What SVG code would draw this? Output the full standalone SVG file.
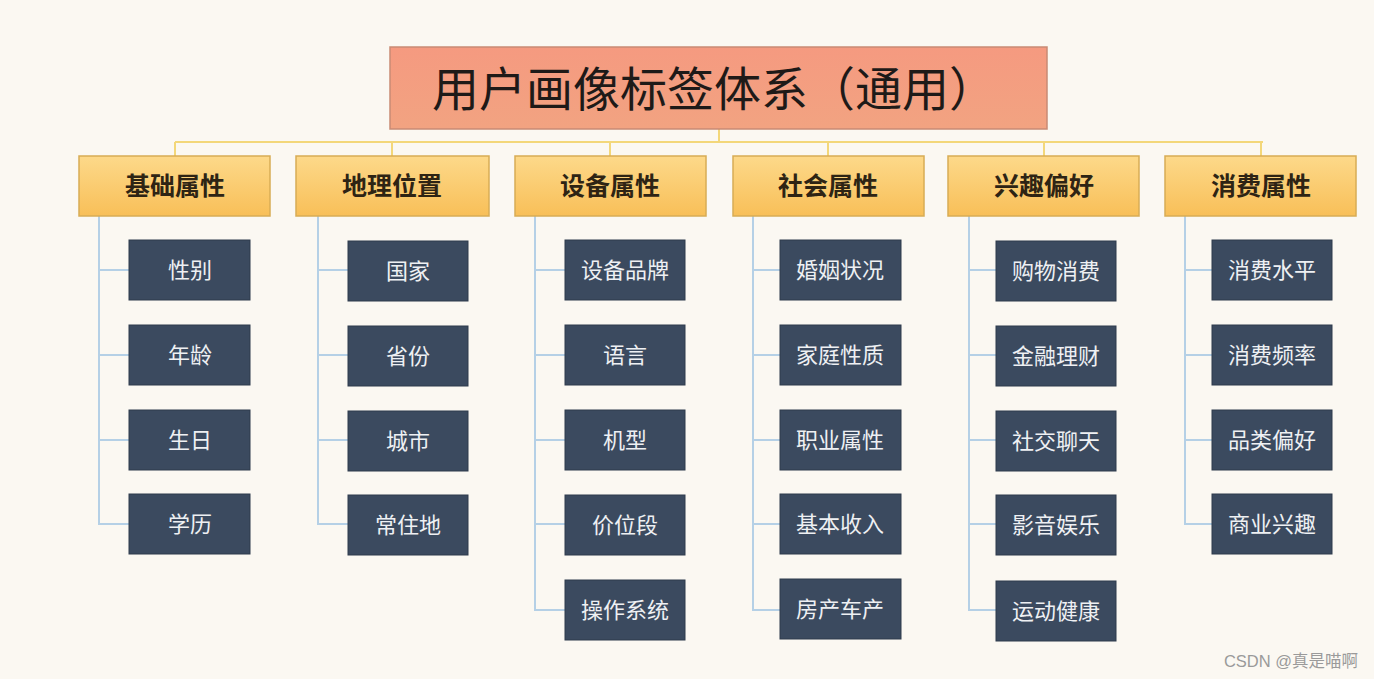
<svg xmlns="http://www.w3.org/2000/svg" width="1374" height="679" viewBox="0 0 1374 679">
<defs>
<linearGradient id="gTitle" x1="0" y1="0" x2="0" y2="1"><stop offset="0" stop-color="#f59a80"/><stop offset="1" stop-color="#f2a381"/></linearGradient>
<linearGradient id="gCat" x1="0" y1="0" x2="0" y2="1"><stop offset="0" stop-color="#fdd98a"/><stop offset="1" stop-color="#f8bf58"/></linearGradient>
</defs>
<style>
.cat{fill:url(#gCat);stroke:#d8ac55;stroke-width:1.5}
.ct{font-family:"Noto Sans CJK SC","Noto Sans",sans-serif;font-weight:bold;font-size:25px;fill:#2e2414;text-anchor:middle}
.leaf{fill:#3b4a5f;stroke:#2f3b4c;stroke-width:1}
.lt{font-family:"Noto Sans CJK SC","Noto Sans",sans-serif;font-size:22px;fill:#eef0f3;text-anchor:middle}
.y{stroke:#f3d77a;stroke-width:2;fill:none}
.b{stroke:#b5d0e6;stroke-width:2;fill:none}
</style>
<rect width="1374" height="679" fill="#fbf8f2"/>
<g id="connectors">
<path class="y" d="M719 129V142M175 142H1263M175 142V156M392 142V156M610 142V156M828 142V156M1044 142V156M1261 142V156"/>
<path class="b" d="M99 216V524H129M99 270H129M99 355H129M99 440H129"/>
<path class="b" d="M318 216V524H348M318 270H348M318 355H348M318 440H348"/>
<path class="b" d="M535 216V610H565M535 270H565M535 355H565M535 440H565M535 524H565"/>
<path class="b" d="M753 216V610H780M753 270H780M753 355H780M753 440H780M753 524H780"/>
<path class="b" d="M969 216V610H996M969 270H996M969 355H996M969 440H996M969 524H996"/>
<path class="b" d="M1185 216V524H1212M1185 270H1212M1185 355H1212M1185 440H1212"/>
</g>
<g id="title"><rect x="390" y="47" width="657" height="82" fill="url(#gTitle)" stroke="#c98a74" stroke-width="1.5"/><text x="714" y="106" font-family="Noto Sans CJK SC,sans-serif" font-size="47" fill="#1e1a18" text-anchor="middle">用户画像标签体系（通用）</text></g>
<g id="c1"><rect class="cat" x="79" y="156" width="191" height="60"/><text class="ct" x="175" y="195">基础属性</text></g>
<g id="c2"><rect class="cat" x="296" y="156" width="193" height="60"/><text class="ct" x="392" y="195">地理位置</text></g>
<g id="c3"><rect class="cat" x="515" y="156" width="191" height="60"/><text class="ct" x="610" y="195">设备属性</text></g>
<g id="c4"><rect class="cat" x="733" y="156" width="191" height="60"/><text class="ct" x="828" y="195">社会属性</text></g>
<g id="c5"><rect class="cat" x="948" y="156" width="191" height="60"/><text class="ct" x="1044" y="195">兴趣偏好</text></g>
<g id="c6"><rect class="cat" x="1165" y="156" width="191" height="60"/><text class="ct" x="1261" y="195">消费属性</text></g>

<g id="l1a"><rect class="leaf" x="129" y="240" width="121" height="60"/><text class="lt" x="190" y="278">性别</text></g>
<g id="l1b"><rect class="leaf" x="129" y="325" width="121" height="60"/><text class="lt" x="190" y="363">年龄</text></g>
<g id="l1c"><rect class="leaf" x="129" y="410" width="121" height="60"/><text class="lt" x="190" y="448">生日</text></g>
<g id="l1d"><rect class="leaf" x="129" y="494" width="121" height="60"/><text class="lt" x="190" y="532">学历</text></g>

<g id="l2a"><rect class="leaf" x="348" y="241" width="120" height="60"/><text class="lt" x="408" y="279">国家</text></g>
<g id="l2b"><rect class="leaf" x="348" y="326" width="120" height="60"/><text class="lt" x="408" y="364">省份</text></g>
<g id="l2c"><rect class="leaf" x="348" y="411" width="120" height="60"/><text class="lt" x="408" y="449">城市</text></g>
<g id="l2d"><rect class="leaf" x="348" y="495" width="120" height="60"/><text class="lt" x="408" y="533">常住地</text></g>

<g id="l3a"><rect class="leaf" x="565" y="240" width="120" height="60"/><text class="lt" x="625" y="278">设备品牌</text></g>
<g id="l3b"><rect class="leaf" x="565" y="325" width="120" height="60"/><text class="lt" x="625" y="363">语言</text></g>
<g id="l3c"><rect class="leaf" x="565" y="410" width="120" height="60"/><text class="lt" x="625" y="448">机型</text></g>
<g id="l3d"><rect class="leaf" x="565" y="495" width="120" height="60"/><text class="lt" x="625" y="533">价位段</text></g>
<g id="l3e"><rect class="leaf" x="565" y="580" width="120" height="60"/><text class="lt" x="625" y="618">操作系统</text></g>

<g id="l4a"><rect class="leaf" x="780" y="240" width="121" height="60"/><text class="lt" x="840" y="278">婚姻状况</text></g>
<g id="l4b"><rect class="leaf" x="780" y="325" width="121" height="60"/><text class="lt" x="840" y="363">家庭性质</text></g>
<g id="l4c"><rect class="leaf" x="780" y="410" width="121" height="60"/><text class="lt" x="840" y="448">职业属性</text></g>
<g id="l4d"><rect class="leaf" x="780" y="494" width="121" height="60"/><text class="lt" x="840" y="532">基本收入</text></g>
<g id="l4e"><rect class="leaf" x="780" y="579" width="121" height="60"/><text class="lt" x="840" y="617">房产车产</text></g>

<g id="l5a"><rect class="leaf" x="996" y="241" width="120" height="60"/><text class="lt" x="1056" y="279">购物消费</text></g>
<g id="l5b"><rect class="leaf" x="996" y="326" width="120" height="60"/><text class="lt" x="1056" y="364">金融理财</text></g>
<g id="l5c"><rect class="leaf" x="996" y="411" width="120" height="60"/><text class="lt" x="1056" y="449">社交聊天</text></g>
<g id="l5d"><rect class="leaf" x="996" y="495" width="120" height="60"/><text class="lt" x="1056" y="533">影音娱乐</text></g>
<g id="l5e"><rect class="leaf" x="996" y="581" width="120" height="60"/><text class="lt" x="1056" y="619">运动健康</text></g>

<g id="l6a"><rect class="leaf" x="1212" y="240" width="120" height="60"/><text class="lt" x="1272" y="278">消费水平</text></g>
<g id="l6b"><rect class="leaf" x="1212" y="325" width="120" height="60"/><text class="lt" x="1272" y="363">消费频率</text></g>
<g id="l6c"><rect class="leaf" x="1212" y="410" width="120" height="60"/><text class="lt" x="1272" y="448">品类偏好</text></g>
<g id="l6d"><rect class="leaf" x="1212" y="494" width="120" height="60"/><text class="lt" x="1272" y="532">商业兴趣</text></g>

<text x="1358" y="667" font-family="Liberation Sans,Noto Sans CJK SC,sans-serif" font-size="16.5" fill="#9a9a9a" text-anchor="end">CSDN @真是喵啊</text>
</svg>
